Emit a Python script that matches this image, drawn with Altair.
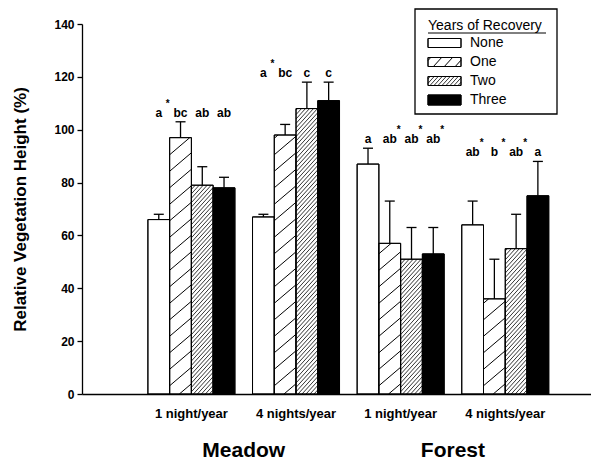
import altair as alt
import pandas as pd
import numpy as np

# ---------------- data ----------------
sites = ["Meadow", "Meadow", "Forest", "Forest"]
frequencies = ["1 night/year", "4 nights/year", "1 night/year", "4 nights/year"]
recovery = ["None", "One", "Two", "Three"]
means = [
    [66, 97, 79, 78],
    [67, 98, 108, 111],
    [87, 57, 51, 53],
    [64, 36, 55, 75],
]
errors = [
    [2, 6, 7, 4],
    [1, 4, 10, 7],
    [6, 16, 12, 10],
    [9, 15, 13, 13],
]
letters = [
    ["a", "bc", "ab", "ab"],
    ["a", "bc", "c", "c"],
    ["a", "ab", "ab", "ab"],
    ["ab", "b", "ab", "a"],
]
stars = [
    [True, False, False, False],
    [True, False, False, False],
    [False, True, True, True],
    [True, True, True, False],
]

# ---------------- layout ----------------
W, H = 509, 370
YMAX = 140
PX_X = 21.75
XMAX = W / PX_X
PX_Y = H / YMAX
BAR_W = 1.0
GROUP0 = 3.03
GROUP_STEP = 4.81
FONT = "Liberation Sans"

fills = {"None": "white", "One": "white", "Two": "white", "Three": "black"}
# slope (px/px), vertical spacing (px), stroke width
bar_hatch = {"One": (0.85, 16.5, 1.0), "Two": (1.1, 4.4, 0.8)}
leg_hatch = {"One": (1.1, 12.0, 1.0), "Two": (1.1, 4.4, 0.8)}


def hatch_segments(w, h, slope, spacing):
    segs = []
    kmin = int(np.floor(-slope * w / spacing)) - 1
    kmax = int(np.ceil(h / spacing)) + 1
    for k in range(kmin, kmax + 1):
        c = k * spacing + spacing * 0.5
        u0 = max(0.0, -c / slope)
        u1 = min(w, (h - c) / slope)
        if u1 - u0 > 0.4:
            segs.append((u0, slope * u0 + c, u1, slope * u1 + c))
    return segs


rows = []
hrows = []
for g in range(4):
    gtop = max(m + e for m, e in zip(means[g], errors[g]))
    for s, r in enumerate(recovery):
        x0 = GROUP0 + g * GROUP_STEP + s * BAR_W
        xc = x0 + BAR_W / 2
        m = means[g][s]
        rows.append(dict(group=g, site=sites[g], freq=frequencies[g], recovery=r,
                         x0=x0, x1=x0 + BAR_W, xc=xc, cl=xc - 0.23, cr=xc + 0.23,
                         mean=m, top=m + errors[g][s], base=0, gtop=gtop,
                         letter=letters[g][s], star=stars[g][s]))
        if r in bar_hatch:
            slope, sp, sw = bar_hatch[r]
            for u0, t0, u1, t1 in hatch_segments(BAR_W * PX_X, m * PX_Y, slope, sp):
                hrows.append(dict(hx0=x0 + u0 / PX_X, hy0=t0 / PX_Y,
                                  hx1=x0 + u1 / PX_X, hy1=t1 / PX_Y, sw=sw))
df = pd.DataFrame(rows)
hdf = pd.DataFrame(hrows)

xs = alt.Scale(domain=[0, XMAX], nice=False, zero=False)
ys = alt.Scale(domain=[0, YMAX], nice=False)
fill_scale = alt.Scale(domain=recovery, range=[fills[r] for r in recovery])

X_AXIS = alt.Axis(ticks=False, labels=False, grid=False, title=None,
                  domainColor="black", domainWidth=1.3)
Y_TITLE = "Relative Vegetation Height (%)"
Y_AXIS = alt.Axis(
    values=list(range(0, 141, 20)), grid=False, title=Y_TITLE,
    titleFont=FONT, titleFontSize=17, titleFontWeight="bold", titlePadding=24, titleColor="black",
    labelFont=FONT, labelFontSize=12, labelFontWeight="bold", labelColor="black", labelPadding=3,
    tickSize=5, tickColor="black", tickWidth=1.3, domainColor="black", domainWidth=1.3)


def X(field):
    return alt.X(field, scale=xs, axis=X_AXIS, title=None)


def Y(field):
    return alt.Y(field, scale=ys, axis=Y_AXIS, title=Y_TITLE)


base = alt.Chart(df)

bars = base.mark_rect(stroke="black", strokeWidth=1).encode(
    x=X("x0:Q"), x2="x1:Q", y=Y("mean:Q"), y2="base:Q",
    fill=alt.Fill("recovery:N", scale=fill_scale, legend=None),
)

hatch = alt.Chart(hdf).mark_rule(color="black").encode(
    x=X("hx0:Q"), x2="hx1:Q", y=Y("hy0:Q"), y2="hy1:Q",
    strokeWidth=alt.StrokeWidth("sw:Q", scale=None),
)

outline = base.mark_rect(fillOpacity=0, stroke="black", strokeWidth=1).encode(
    x=X("x0:Q"), x2="x1:Q", y=Y("mean:Q"), y2="base:Q",
)

err = base.mark_rule(color="black", strokeWidth=1.3).encode(
    x=X("xc:Q"), y=Y("mean:Q"), y2="top:Q",
)
caps = base.mark_rule(color="black", strokeWidth=1.3).encode(
    x=X("cl:Q"), x2="cr:Q", y=Y("top:Q"),
)

letter_txt = base.mark_text(font=FONT, fontSize=12, fontWeight="bold", baseline="alphabetic",
                            dy=-5, color="black").encode(
    x=X("xc:Q"), y=Y("gtop:Q"), text="letter:N",
)
star_txt = base.transform_filter("datum.star").mark_text(
    text="*", font=FONT, fontSize=10, fontWeight="bold", baseline="alphabetic",
    dx=9, dy=-15, color="black").encode(
    x=X("xc:Q"), y=Y("gtop:Q"),
)

freq_txt = base.transform_aggregate(cx="mean(xc)", groupby=["group", "freq"]).mark_text(
    font=FONT, fontSize=13, fontWeight="bold", baseline="middle", color="black").encode(
    x=X("cx:Q"), y=alt.value(H + 20), text="freq:N")

site_txt = base.transform_aggregate(cx="mean(xc)", groupby=["site"]).mark_text(
    font=FONT, fontSize=21, fontWeight="bold", baseline="middle", color="black").encode(
    x=X("cx:Q"), y=alt.value(H + 57), text="site:N")

# ---------------- legend (drawn in pixel space) ----------------
LX0, LX1, LY0, LY1 = 333, 475, -15, 90
SX0, SX1 = 346, 379
ROW0, ROW_STEP = 19, 19
leg_rows = []
leg_h = []
for i, r in enumerate(recovery):
    cy = ROW0 + i * ROW_STEP
    hh = 10 if r == "Three" else 9
    leg_rows.append(dict(recovery=r, sy0=cy - hh / 2, sy1=cy + hh / 2, cy=cy,
                         sx0=SX0, sx1=SX1, lx=SX1 + 9))
    if r in leg_hatch:
        slope, sp, sw = leg_hatch[r]
        bottom = cy + hh / 2
        for u0, t0, u1, t1 in hatch_segments(SX1 - SX0, hh, slope, sp):
            leg_h.append(dict(a=SX0 + u0, b=bottom - t0, c=SX0 + u1, d=bottom - t1, sw=sw))
ldf = pd.DataFrame(leg_rows)
lhdf = pd.DataFrame(leg_h)
one = pd.DataFrame({"k": [0]})

leg_box = alt.Chart(one).mark_rect(fill="white", stroke="black", strokeWidth=1.3).encode(
    x=alt.value(LX0), x2=alt.value(LX1), y=alt.value(LY0), y2=alt.value(LY1))
leg_title = alt.Chart(one).mark_text(
    text="Years of Recovery", font=FONT, fontSize=14, align="left", baseline="alphabetic",
    color="black").encode(x=alt.value(SX0), y=alt.value(6))
leg_ul = alt.Chart(one).mark_rule(color="black", strokeWidth=1).encode(
    x=alt.value(SX0), x2=alt.value(SX0 + 118), y=alt.value(9))
leg_sw = alt.Chart(ldf).mark_rect(stroke="black", strokeWidth=1).encode(
    x=alt.X("sx0:Q", scale=None), x2="sx1:Q",
    y=alt.Y("sy0:Q", scale=None), y2="sy1:Q",
    fill=alt.Fill("recovery:N", scale=fill_scale, legend=None))
leg_hl = alt.Chart(lhdf).mark_rule(color="black").encode(
    x=alt.X("a:Q", scale=None), x2="c:Q", y=alt.Y("b:Q", scale=None), y2="d:Q",
    strokeWidth=alt.StrokeWidth("sw:Q", scale=None))
leg_sw2 = alt.Chart(ldf).mark_rect(fillOpacity=0, stroke="black", strokeWidth=1).encode(
    x=alt.X("sx0:Q", scale=None), x2="sx1:Q",
    y=alt.Y("sy0:Q", scale=None), y2="sy1:Q")
leg_lab = alt.Chart(ldf).mark_text(font=FONT, fontSize=14, align="left", baseline="middle",
                                   color="black").encode(
    x=alt.X("lx:Q", scale=None), y=alt.Y("cy:Q", scale=None), text="recovery:N")

chart = alt.layer(
    bars, hatch, outline, err, caps, letter_txt, star_txt, freq_txt, site_txt,
    leg_box, leg_title, leg_ul, leg_sw, leg_hl, leg_sw2, leg_lab,
).properties(
    width=W, height=H,
    autosize=alt.AutoSizeParams(type="none"),
    padding={"left": 74, "top": 16, "right": 0, "bottom": 67},
    background="white",
).configure_view(stroke=None)

chart.save("out.html", embed_options={"renderer": "svg", "actions": False})
